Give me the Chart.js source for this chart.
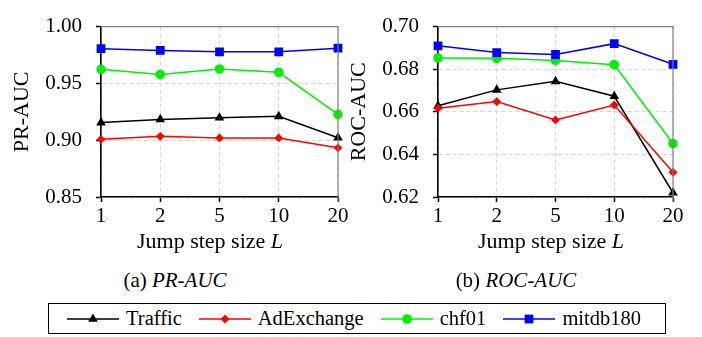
<!DOCTYPE html>
<html>
<head>
<meta charset="utf-8">
<script src="https://cdn.jsdelivr.net/npm/chart.js@4/dist/chart.umd.min.js"></script>
<style>
  html, body { margin: 0; padding: 0; background: #fff; }
  #root { position: relative; width: 702px; height: 337px; overflow: hidden; font-family: 'Liberation Serif', 'Times New Roman', serif; color: #000; }
  .panel { position: absolute; top: 0; height: 260px; }
  .xt { position: absolute; top: 228px; height: 26px; line-height: 26px; font-size: 22px; text-align: center; white-space: nowrap; }
  .cap { position: absolute; top: 267px; height: 26px; line-height: 26px; font-size: 21px; text-align: center; white-space: nowrap; }
  #legend { position: absolute; left: 48px; top: 303px; width: 598px; height: 29px; border: 1.5px solid #000; display: flex; align-items: center; padding-left: 18px; box-sizing: content-box; }
  .li { display: flex; align-items: center; margin-right: 17px; font-size: 20.5px; white-space: nowrap; }
  .li canvas { margin-right: 7px; }
</style>
</head>
<body>
<div id="root">
  <div class="panel" style="left:0;width:351px"><canvas id="c1" width="351" height="260"></canvas></div>
  <div class="panel" style="left:345px;width:357px"><canvas id="c2" width="357" height="260"></canvas></div>
  <div class="xt" style="left:110px;width:200px">Jump step size <i>L</i></div>
  <div class="xt" style="left:451px;width:200px">Jump step size <i>L</i></div>
  <div class="cap" style="left:75px;width:200px">(a) <i>PR-AUC</i></div>
  <div class="cap" style="left:416px;width:200px">(b) <i>ROC-AUC</i></div>
  <div id="legend"></div>
</div>
<script>
// ---- data ----
const categories = ['1', '2', '5', '10', '20'];
const seriesNames = ['Traffic', 'AdExchange', 'chf01', 'mitdb180'];

const trafficPR = [0.9155, 0.9183, 0.9197, 0.9210, 0.9022];
const adexchangePR = [0.9008, 0.9034, 0.9020, 0.9020, 0.8933];
const chf01PR = [0.9624, 0.9579, 0.9627, 0.9598, 0.9227];
const mitdb180PR = [0.9806, 0.9790, 0.9778, 0.9778, 0.9810];

const trafficROC = [0.6628, 0.6703, 0.6743, 0.6673, 0.6220];
const adexchangeROC = [0.6617, 0.6648, 0.6562, 0.6632, 0.6316];
const chf01ROC = [0.6853, 0.6851, 0.6841, 0.6821, 0.6451];
const mitdb180ROC = [0.6910, 0.6878, 0.6869, 0.6920, 0.6823];

const prTicks = [0.85, 0.90, 0.95, 1.00];
const rocTicks = [0.62, 0.64, 0.66, 0.68, 0.70];

// ---- styles ----
const styles = [
  { color: '#000000', pointStyle: 'triangle', radius: 5.6 },
  { color: '#ff0000', pointStyle: 'rectRot', radius: 4.4 },
  { color: '#00f000', pointStyle: 'circle', radius: 4.8 },
  { color: '#0000ff', pointStyle: 'rect', radius: 6.2 }
];
const FONT = "'Liberation Serif', 'Times New Roman', serif";

function makeDatasets(arrs) {
  return arrs.map((d, i) => ({
    label: seriesNames[i],
    data: d,
    borderColor: styles[i].color,
    backgroundColor: styles[i].color,
    pointBackgroundColor: styles[i].color,
    pointBorderColor: styles[i].color,
    pointBorderWidth: 0,
    pointStyle: styles[i].pointStyle,
    pointRadius: styles[i].radius,
    borderWidth: 1.5,
    tension: 0,
    order: 4 - i
  }));
}

const framePlugin = {
  id: 'frame',
  afterDatasetsDraw(chart) {
    const a = chart.chartArea, ctx = chart.ctx;
    ctx.save();
    ctx.strokeStyle = '#808080';
    ctx.lineWidth = 1.2;
    ctx.beginPath();
    ctx.moveTo(a.left, a.top);
    ctx.lineTo(a.right, a.top);
    ctx.lineTo(a.right, a.bottom + 5);
    ctx.stroke();
    ctx.restore();
  }
};

function makeChart(id, arrs, ticks, title, yWidth, padRight, titlePad) {
  const tmin = ticks[0], tmax = ticks[ticks.length - 1];
  return new Chart(document.getElementById(id), {
    type: 'line',
    data: { labels: categories, datasets: makeDatasets(arrs) },
    plugins: [framePlugin],
    options: {
      responsive: false,
      animation: false,
      events: [],
      layout: { padding: { top: 19, right: padRight, bottom: 0, left: 0 } },
      plugins: { legend: { display: false }, tooltip: { enabled: false } },
      scales: {
        x: {
          type: 'category',
          offset: false,
          grid: { color: '#d4d4d4', lineWidth: 1, drawTicks: true, tickLength: 5, tickColor: '#000', tickWidth: 1.5 },
          border: { display: true, color: '#000', width: 1.6, dash: [4, 3] },
          ticks: { color: '#000', font: { family: FONT, size: 21 }, padding: 2, maxRotation: 0, autoSkip: false },
          afterFit(s) { s.height = 63; }
        },
        y: {
          min: tmin, max: tmax,
          afterBuildTicks(s) { s.ticks = ticks.map(v => ({ value: v })); },
          grid: { color: '#d4d4d4', lineWidth: 1, drawTicks: true, tickLength: 5, tickColor: '#000', tickWidth: 1.5 },
          border: { display: true, color: '#000', width: 1.6, dash: [4, 3] },
          ticks: { color: '#000', font: { family: FONT, size: 21 }, padding: 14, callback: v => Number(v).toFixed(2) },
          title: { display: true, text: title, color: '#000', font: { family: FONT, size: 22, lineHeight: 1 }, padding: { top: titlePad, bottom: 0 } },
          afterFit(s) { s.width = yWidth; }
        }
      }
    }
  });
}

const c1 = makeChart('c1', [trafficPR, adexchangePR, chf01PR, mitdb180PR], prTicks, 'PR-AUC', 101, 13, 11.5);
const c2 = makeChart('c2', [trafficROC, adexchangeROC, chf01ROC, mitdb180ROC], rocTicks, 'ROC-AUC', 93, 29, 3);

// ---- legend (built from the series) ----
const legend = document.getElementById('legend');
seriesNames.forEach((name, i) => {
  const item = document.createElement('div');
  item.className = 'li';
  const cv = document.createElement('canvas');
  cv.width = 52; cv.height = 20;
  const ctx = cv.getContext('2d');
  ctx.strokeStyle = styles[i].color;
  ctx.lineWidth = 1.5;
  ctx.beginPath(); ctx.moveTo(0, 10); ctx.lineTo(52, 10); ctx.stroke();
  ctx.fillStyle = styles[i].color;
  ctx.strokeStyle = styles[i].color;
  if (Chart.helpers && Chart.helpers.drawPoint) {
    Chart.helpers.drawPoint(ctx, { pointStyle: styles[i].pointStyle, radius: styles[i].radius, rotation: 0, borderWidth: 0 }, 26, 10);
  }
  item.appendChild(cv);
  const sp = document.createElement('span');
  sp.textContent = name;
  item.appendChild(sp);
  legend.appendChild(item);
});
</script>
</body>
</html>
